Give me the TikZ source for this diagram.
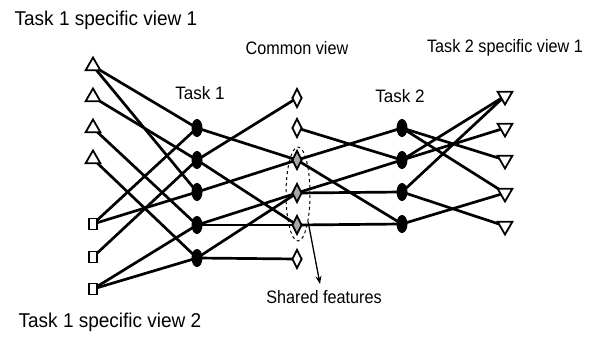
\documentclass[tikz,border=0pt]{standalone}
\usepackage{fontspec}
\setmainfont[FakeStretch=0.9]{Liberation Sans}
\newfontfamily\widelbl[FakeStretch=0.95]{Liberation Sans}
\usetikzlibrary{shapes.geometric,backgrounds,arrows.meta}
\begin{document}
\begin{tikzpicture}[x=1pt,y=-1pt,
  edge/.style={line width=2.7pt},
  feat/.style={inner sep=0pt, line width=1.8pt, draw=black, fill=white},
  uptri/.style={feat, regular polygon, regular polygon sides=3, minimum size=17pt},
  downtri/.style={uptri, shape border rotate=180},
  sqr/.style={feat, rectangle, minimum width=8pt, minimum height=11pt},
  dot/.style={ellipse, fill=black, minimum width=11pt, minimum height=18pt, inner sep=0pt},
  dia/.style={feat, diamond, minimum width=10pt, minimum height=19pt},
  shared/.style={dia, fill=gray!70},
  lbl/.style={font=\fontsize{18}{21}\selectfont, inner sep=0pt},
  viewlbl/.style={font=\widelbl\fontsize{20}{23}\selectfont, inner sep=0pt},
  tasklbl/.style={font=\widelbl\fontsize{18}{21}\selectfont, inner sep=0pt}
]
\useasboundingbox (0,0) rectangle (589,337);

% Task 1 specific view 1 (triangles) and view 2 (squares)
\node[uptri] (t1) at (93,66) {};
\node[uptri] (t2) at (93,97) {};
\node[uptri] (t3) at (93,128) {};
\node[uptri] (t4) at (93,159) {};
\node[sqr] (s1) at (93,224) {};
\node[sqr] (s2) at (93,257) {};
\node[sqr] (s3) at (93,289) {};

% Task 1 features
\node[dot] (a1) at (197,128) {};
\node[dot] (a2) at (197,160) {};
\node[dot] (a3) at (197,192) {};
\node[dot] (a4) at (197,225) {};
\node[dot] (a5) at (197,258) {};

% Common view
\node[dia] (d1) at (297,98) {};
\node[dia] (d2) at (297,128) {};
\node[shared] (d3) at (297,160) {};
\node[shared] (d4) at (297,193) {};
\node[shared] (d5) at (297,225) {};
\node[dia] (d6) at (297,259) {};

% Task 2 features
\node[dot] (b1) at (402,128) {};
\node[dot] (b2) at (402,160) {};
\node[dot] (b3) at (402,192) {};
\node[dot] (b4) at (402,224) {};

% Task 2 specific view 1
\node[downtri] (r1) at (505,96) {};
\node[downtri] (r2) at (505,128) {};
\node[downtri] (r3) at (505,160) {};
\node[downtri] (r4) at (505,193) {};
\node[downtri] (r5) at (505,226) {};

\begin{pgfonlayer}{background}
  \fill[white] (0,0) rectangle (589,337);
  \foreach \u/\v in {t1/a1, t1/a3, t2/a2, t3/a4, t4/a5, s1/a1, s1/a3, s2/a2, s3/a4, s3/a5,
                     a1/d3, a2/d1, a2/d5, a3/d3, a4/d4, a4/d5, a5/d4, a5/d6,
                     d2/b2, d3/b1, d3/b4, d4/b2, d4/b3, d5/b4,
                     b1/r3, b1/r4, b2/r1, b2/r2, b3/r1, b3/r5, b4/r4}
    \draw[edge] (\u.center) -- (\v.center);
\end{pgfonlayer}

% shared features marker
\node[draw, dashed, line width=1pt, ellipse, minimum width=24pt, minimum height=94pt, inner sep=0pt] (sh) at (298,194) {};
\node[lbl] (shl) at (324,297) {Shared features};
\coordinate (tip) at (320,284);
\draw[line width=1.3pt, -{Stealth[length=8pt,width=6pt]}] (sh.-70) -- (tip);

% labels
\node[viewlbl] (l1) at (106,20) {Task 1 specific view 1};
\node[viewlbl] (l2) at (110,322) {Task 1 specific view 2};
\node[lbl] (l3) at (297,48) {Common view};
\node[lbl] (l4) at (505,48) {Task 2 specific view 1};
\node[tasklbl] (l5) at (200,93) {Task 1};
\node[tasklbl] (l6) at (400,96) {Task 2};
\end{tikzpicture}
\end{document}
